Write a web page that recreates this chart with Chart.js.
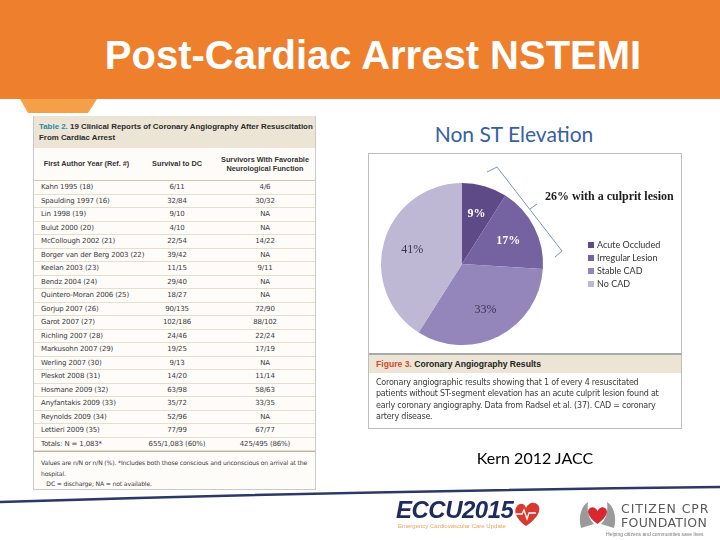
<!DOCTYPE html>
<html>
<head>
<meta charset="utf-8">
<script src="https://cdn.jsdelivr.net/npm/chart.js@4.4.1/dist/chart.umd.min.js"></script>
<style>
  html, body { margin: 0; padding: 0; }
  body { width: 720px; height: 540px; position: relative; overflow: hidden; background: #fff; font-family: "Liberation Sans", Arial, sans-serif; }
  .abs { position: absolute; }
  #band { left: 0; top: 0; width: 720px; height: 99px; background: #EE7F2D; }
  #tab { left: 0; top: 99px; width: 120px; height: 16px; }
  #title { left: 0; width: 746px; top: 35px; text-align: center; font: bold 40px/40px "Liberation Sans", Arial, sans-serif; color: #fff; }

  #tbl { left: 33px; top: 116px; width: 281px; height: 373px; border: 1px solid #c9c9c9; border-top: none; background: #fdfcf9; overflow: hidden; }
  #tbl .cap { height: 32px; background: #ECE5D5; padding: 5px 0 0 5px; box-sizing: border-box; font: bold 7.9px/11px "Liberation Sans", sans-serif; color: #2a2a2a; white-space: nowrap; }
  #tbl .cap b { color: #2C86A4; }
  #tbl table { border-collapse: collapse; width: 100%; table-layout: fixed; }
  #tbl th { height: 32px; font: bold 7.3px/9.5px "Liberation Sans", sans-serif; color: #333; padding: 0; border-bottom: 1px solid #cfc6b2; vertical-align: middle; }
  #tbl td { height: 12.5px; font: 7px/12.5px "DejaVu Sans", sans-serif; letter-spacing: -0.15px; color: #3a3a3a; padding: 0; border-bottom: 1px solid #e6dfcf; white-space: nowrap; }
  #tbl td.c { text-align: center; }
  #tbl td.l { padding-left: 7px; }
  #tbl .foot { border-top: 1px solid #bdb5a3; padding: 6px 0 0 7px; font: 6.1px/10.5px "DejaVu Sans", sans-serif; letter-spacing: -0.15px; color: #3a3a3a; white-space: nowrap; }

  #sub { left: 380px; width: 268px; top: 121px; text-align: center; font: 21px/26px Lato, "Open Sans", sans-serif; color: #3560A6; }
  #fig { left: 368px; top: 153px; width: 314px; height: 276px; border: 1px solid #bdbdbd; box-sizing: border-box; background: #fff; }
  #pie { left: 369px; top: 155px; }
  #legend { left: 588px; top: 238px; font: 9px/13px Lato, sans-serif; color: #333; }
  #legend span.sw { display: inline-block; width: 6px; height: 6px; margin-right: 3px; vertical-align: 0px; }
  #cul { left: 545px; top: 188px; font: bold 12px/16px "Liberation Serif", serif; color: #1c1c1c; white-space: nowrap; }
  #figcap { left: 369px; top: 353px; width: 312px; height: 20px; background: #ECE5D5; border-top: 2px solid #a9a9a9; box-sizing: border-box; font: bold 8.6px/18px "Liberation Sans", sans-serif; color: #222; padding-left: 7px; }
  #figcap b { color: #CF4A2E; }
  #figtxt { left: 376px; top: 377px; width: 305px; font: 8px/11.3px "DejaVu Sans", sans-serif; color: #3a3a3a; letter-spacing: -0.22px; white-space: nowrap; }
  #kern { left: 440px; width: 190px; top: 448px; text-align: center; font: 16px/20px Lato, sans-serif; color: #000; }

  #eccu { left: 396px; top: 497px; font: italic 900 24px/26px "Liberation Sans", sans-serif; color: #1E2B5E; letter-spacing: -0.5px; }
  #eccutag { left: 398px; top: 522px; font: 6px/8px "Liberation Sans", sans-serif; color: #E9A15A; }
  #ccpr1 { left: 621px; top: 502px; font: 12.5px/14px "DejaVu Sans", sans-serif; color: #5a5a5a; letter-spacing: 0.9px; }
  #ccpr2 { left: 621px; top: 516px; font: 12.5px/14px "DejaVu Sans", sans-serif; color: #5a5a5a; letter-spacing: 0.3px; }
  #ccpr3 { left: 606px; top: 531px; font: 5px/6px "Liberation Sans", sans-serif; color: #777; }
</style>
</head>
<body>
<div id="band" class="abs"></div>
<svg id="tab" class="abs" width="120" height="16"><polygon points="20,0 97,0 88,14 28,14" fill="#F4A049"/></svg>
<div id="title" class="abs">Post-Cardiac Arrest NSTEMI</div>

<div id="tbl" class="abs">
  <div class="cap"><b>Table 2.</b> 19 Clinical Reports of Coronary Angiography After Resuscitation<br>From Cardiac Arrest</div>
  <table>
    <colgroup><col style="width:105px"><col style="width:76px"><col style="width:100px"></colgroup>
    <thead><tr><th id="h0"></th><th id="h1"></th><th id="h2"></th></tr></thead>
    <tbody id="rows"></tbody>
  </table>
  <div class="foot">Values are n/N or n/N (%). *Includes both those conscious and unconscious on arrival at the<br>hospital.<br>&nbsp;&nbsp;&nbsp;DC = discharge; NA = not available.</div>
</div>

<div id="sub" class="abs">Non ST Elevation</div>
<div id="fig" class="abs"></div>
<canvas id="pie" class="abs" width="313" height="198"></canvas>
<svg class="abs" style="left:0;top:0" width="720" height="540">
  <polyline points="487,172 497,167 562,251 555,257" fill="none" stroke="#7C93B5" stroke-width="1"/>
  <line x1="530" y1="209" x2="537" y2="204" stroke="#7C93B5" stroke-width="1"/>
  <path d="M0,502 Q360,491 720,487" fill="none" stroke="#2B3868" stroke-width="2.5"/>
  <g transform="translate(578,500)">
    <path d="M3,28 C0,18 3,6 10,2 C9,10 10,18 16,24 Z" fill="#9a9a9a"/>
    <path d="M36,28 C39,18 36,6 29,2 C30,10 29,18 23,24 Z" fill="#9a9a9a"/>
    <path d="M19.5,24 C10,17 8,11 12,8 C15,6 18,8 19.5,11 C21,8 24,6 27,8 C31,11 29,17 19.5,24 Z" fill="#D7282F"/>
  </g>
  <g transform="translate(514,500)">
    <path d="M12,26 C2,19 -1,11 3,6 C7,2 11,4 12,8 C14,3 20,1 24,5 C28,10 23,19 12,26 Z" fill="#D93A30"/>
    <polyline points="2,14 8,14 10,10 13,19 15,13 22,13" fill="none" stroke="#fff" stroke-width="1.3"/>
  </g>
</svg>
<div id="legend" class="abs"></div>
<div id="cul" class="abs">26% with a culprit lesion</div>
<div id="figcap" class="abs"><b>Figure 3.</b> Coronary Angiography Results</div>
<div id="figtxt" class="abs">Coronary angiographic results showing that 1 of every 4 resuscitated<br>patients without ST-segment elevation has an acute culprit lesion found at<br>early coronary angiography. Data from Radsel et al. (37). CAD = coronary<br>artery disease.</div>
<div id="kern" class="abs">Kern 2012 JACC</div>

<div id="eccu" class="abs">ECCU2015</div>
<div id="eccutag" class="abs">Emergency Cardiovascular Care Update</div>
<div id="ccpr1" class="abs">CITIZEN CPR</div>
<div id="ccpr2" class="abs">FOUNDATION</div>
<div id="ccpr3" class="abs">Helping citizens and communities save lives</div>

<script>
// pie data (Figure 3)
const pieLabels = ['Acute Occluded', 'Irregular Lesion', 'Stable CAD', 'No CAD'];
const pieValues = [9, 17, 33, 41];
const pieColors = ['#5E4A87', '#7462A1', '#9486BA', '#BEB8D5'];

// table data (Table 2)
const colHeads = ['First Author Year (Ref. #)', 'Survival to DC', 'Survivors With Favorable<br>Neurological Function'];
const authors = ['Kahn 1995 (18)', 'Spaulding 1997 (16)', 'Lin 1998 (19)', 'Bulut 2000 (20)', 'McCollough 2002 (21)',
  'Borger van der Berg 2003 (22)', 'Keelan 2003 (23)', 'Bendz 2004 (24)', 'Quintero-Moran 2006 (25)', 'Gorjup 2007 (26)',
  'Garot 2007 (27)', 'Richling 2007 (28)', 'Markusohn 2007 (29)', 'Werling 2007 (30)', 'Pleskot 2008 (31)',
  'Hosmane 2009 (32)', 'Anyfantakis 2009 (33)', 'Reynolds 2009 (34)', 'Lettieri 2009 (35)', 'Totals: N = 1,083*'];
const survival = ['6/11', '32/84', '9/10', '4/10', '22/54', '39/42', '11/15', '29/40', '18/27', '90/135',
  '102/186', '24/46', '19/25', '9/13', '14/20', '63/98', '35/72', '52/96', '77/99', '655/1,083 (60%)'];
const neuro = ['4/6', '30/32', 'NA', 'NA', '14/22', 'NA', '9/11', 'NA', 'NA', '72/90',
  '88/102', '22/24', '17/19', 'NA', '11/14', '58/63', '33/35', 'NA', '67/77', '425/495 (86%)'];

// 表
colHeads.forEach((h, i) => { document.getElementById('h' + i).innerHTML = h; });
const tb = document.getElementById('rows');
authors.forEach((a, i) => {
  const tr = document.createElement('tr');
  tr.innerHTML = `<td class="l">${a}</td><td class="c">${survival[i]}</td><td class="c">${neuro[i]}</td>`;
  tb.appendChild(tr);
});

// 凡例
const lg = document.getElementById('legend');
pieLabels.forEach((l, i) => {
  const d = document.createElement('div');
  d.innerHTML = `<span class="sw" style="background:${pieColors[i]}"></span>${l}`;
  lg.appendChild(d);
});

// slice % labels
const pctLabels = {
  id: 'pctLabels',
  afterDatasetsDraw(chart) {
    const c = chart.ctx;
    const meta = chart.getDatasetMeta(0);
    const ds = chart.data.datasets[0];
    meta.data.forEach((arc, i) => {
      const p = arc.getProps(['x', 'y', 'startAngle', 'endAngle', 'outerRadius']);
      const mid = (p.startAngle + p.endAngle) / 2;
      const r = p.outerRadius * 0.64;
      const dark = i < 2;
      c.save();
      c.font = (dark ? 'bold ' : '') + '12px "Liberation Serif", serif';
      c.fillStyle = dark ? '#ffffff' : '#3b3450';
      c.textAlign = 'center';
      c.textBaseline = 'middle';
      c.fillText(ds.data[i] + '%', p.x + Math.cos(mid) * r, p.y + Math.sin(mid) * r);
      c.restore();
    });
  }
};

new Chart(document.getElementById('pie'), {
  type: 'pie',
  data: { labels: pieLabels, datasets: [{ data: pieValues, backgroundColor: pieColors, borderWidth: 0 }] },
  options: {
    responsive: false,
    animation: false,
    layout: { padding: { left: 12, top: 28, right: 139, bottom: 8 } },
    plugins: { legend: { display: false }, tooltip: { enabled: false } }
  },
  plugins: [pctLabels]
});
</script>
</body>
</html>
